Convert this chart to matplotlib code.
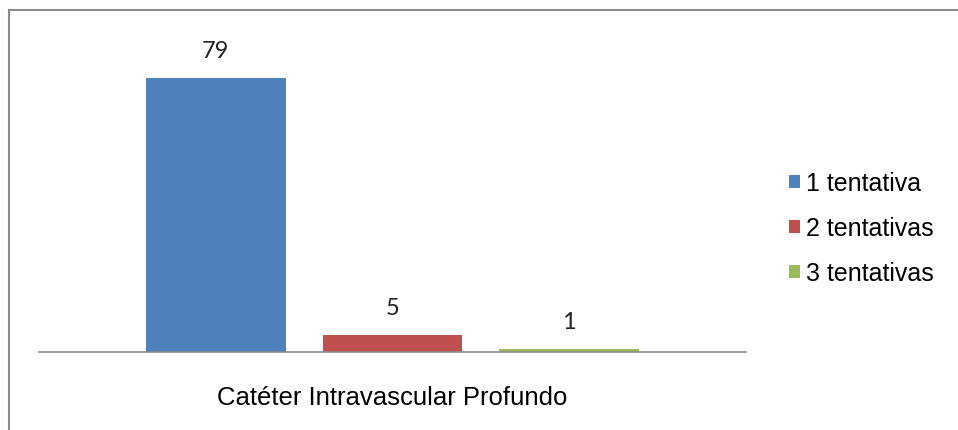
import matplotlib.pyplot as plt
from matplotlib.patches import Rectangle

# data
series = ['1 tentativa', '2 tentativas', '3 tentativas']
values = [79, 5, 1]
colors = ['#4F81BD', '#C0504D', '#9BBB59']
category = 'Catéter Intravascular Profundo'
offsets = [-0.25, 0.0, 0.25]

W, H = 958, 431
fig = plt.figure(figsize=(W / 100, H / 100), dpi=100)

# outer chart border (left and top visible, rest cropped)
fig.patches.append(Rectangle((9 / W, -0.1), 1.2, 1 - 11 / H + 0.1,
                             transform=fig.transFigure, fill=False,
                             edgecolor='#8c8c8c', linewidth=1.5))

ax = fig.add_axes([39 / W, (H - 353) / H, 707 / W, 312 / H])
for name, v, c, off in zip(series, values, colors, offsets):
    ax.bar(off, v, width=0.198, color=c, label=name)
    ax.annotate(str(v), (off, v), xytext=(0, 12), textcoords='offset points',
                ha='center', va='bottom', fontsize=17, color='#222222',
                family='Lato')

ax.set_xlim(-0.5, 0.5)
ax.set_ylim(0, 90)
for s in ['top', 'right', 'left']:
    ax.spines[s].set_visible(False)
ax.spines['bottom'].set_color('#8c8c8c')
ax.spines['bottom'].set_linewidth(1.2)
ax.set_yticks([])
ax.set_xticks([0])
ax.set_xticklabels([category], fontsize=18.5, family='Liberation Sans')
ax.tick_params(axis='x', length=0, pad=24)

leg = fig.legend(loc='upper left', bbox_to_anchor=(766 / W, 1 - 150 / H),
                 frameon=False, prop={'family': 'Liberation Sans', 'size': 18},
                 handlelength=0.45, handleheight=0.45, handletextpad=0.25,
                 labelspacing=0.84)

fig.savefig('out.png', dpi=100)
